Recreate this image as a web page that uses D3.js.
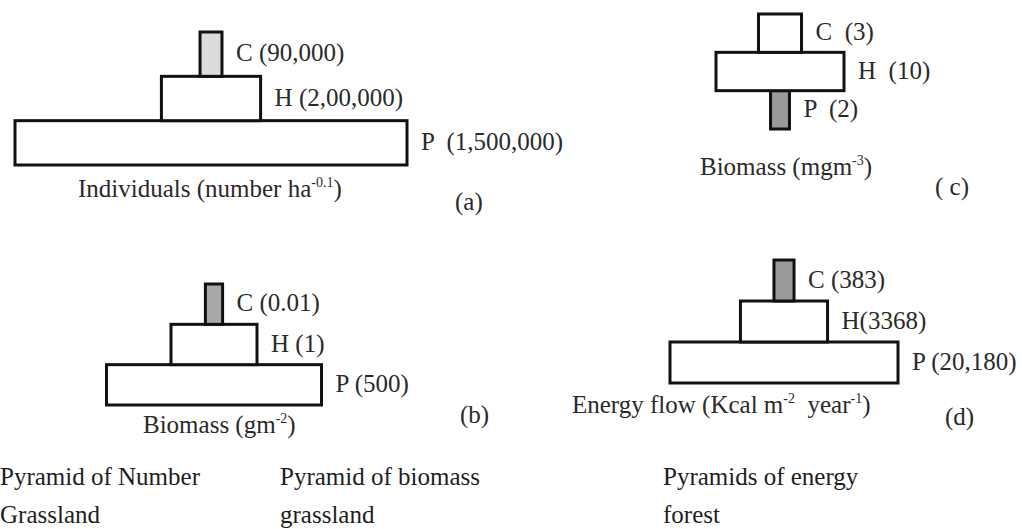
<!DOCTYPE html>
<html lang="en">
<head>
  <meta charset="UTF-8">
  <script src="https://cdnjs.cloudflare.com/ajax/libs/d3/7.8.5/d3.min.js"></script>
  <title>Ecological pyramids</title>
  <style>
    body { margin: 0; background: #fff; }
    text { font-family: "Liberation Serif", "Times New Roman", serif; }
  </style>
</head>
<body>
  <div id="chart"></div>
  <script>
  // trophic levels, bottom to top
  let levels = ["P", "H", "C"];

  // (a) pyramid of number, grassland
  let numberValues = [1500000, 200000, 90000];
  let numberLabels = ["P  (1,500,000)", "H (2,00,000)", "C (90,000)"];
  let numberWidths = [100, 25.3, 5.6];   // drawn width, % of widest tier

  // (b) pyramid of biomass, grassland
  let grassBiomassValues = [500, 1, 0.01];
  let grassBiomassLabels = ["P (500)", "H (1)", "C (0.01)"];
  let grassBiomassWidths = [100, 40, 8];

  // (c) biomass, inverted
  let waterBiomassValues = [2, 10, 3];
  let waterBiomassLabels = ["P  (2)", "H  (10)", "C  (3)"];
  let waterBiomassWidths = [14.8, 100, 33.6];

  // (d) pyramid of energy, forest
  let energyValues = [20180, 3368, 383];
  let energyLabels = ["P (20,180)", "H(3368)", "C (383)"];
  let energyWidths = [100, 38.2, 8.8];

  let width = 1031;
  let height = 529;

  let svg = d3.select("#chart")
    .append("svg")
    .attr("width", width)
    .attr("height", height);

  // layout of each little pyramid
  let panels = [
    { widths: numberWidths, labels: numberLabels, values: numberValues,
      cx: 211, span: 392, top: 32, bottom: 165, shade: 2, shadeColor: "#dcdcdc",
      tag: "(a)", tagX: 455, tagY: 210,
      unit: [["Individuals (number ha", 0], ["-0.1", 1], [")", 0]], unitX: 78, unitY: 197 },
    { widths: grassBiomassWidths, labels: grassBiomassLabels, values: grassBiomassValues,
      cx: 214, span: 215, top: 284, bottom: 405, shade: 2, shadeColor: "#a8a8a8",
      tag: "(b)", tagX: 460, tagY: 423,
      unit: [["Biomass (gm", 0], ["-2", 1], [")", 0]], unitX: 143, unitY: 433 },
    { widths: waterBiomassWidths, labels: waterBiomassLabels, values: waterBiomassValues,
      cx: 780, span: 128, top: 14, bottom: 129, shade: 0, shadeColor: "#9a9a9a",
      tag: "( c)", tagX: 935, tagY: 195,
      unit: [["Biomass (mgm", 0], ["-3", 1], [")", 0]], unitX: 700, unitY: 175 },
    { widths: energyWidths, labels: energyLabels, values: energyValues,
      cx: 784, span: 228, top: 260, bottom: 383, shade: 2, shadeColor: "#9a9a9a",
      tag: "(d)", tagX: 945, tagY: 425,
      unit: [["Energy flow (Kcal m", 0], ["-2", 1], ["  year", 0], ["-1", 1], [")", 0]], unitX: 572, unitY: 413 }
  ];

  panels.forEach(function(p) {
    let x = d3.scaleLinear().domain([0, 100]).range([0, p.span]);
    let y = d3.scaleBand().domain(levels.slice().reverse()).range([p.top, p.bottom]).paddingInner(0);

    let g = svg.append("g");

    let tiers = levels.map(function(lv, i) {
      return { level: lv, w: p.widths[i], label: p.labels[i], value: p.values[i], i: i };
    });

    g.selectAll("rect")
      .data(tiers)
      .enter()
      .append("rect")
      .attr("x", function(d) { return p.cx - x(d.w) / 2; })
      .attr("y", function(d) { return y(d.level); })
      .attr("width", function(d) { return x(d.w); })
      .attr("height", y.bandwidth())
      .attr("fill", function(d) { return d.i === p.shade ? p.shadeColor : "#fff"; })
      .attr("stroke", "#111")
      .attr("stroke-width", 3);

    g.selectAll("text.lab")
      .data(tiers)
      .enter()
      .append("text")
      .attr("class", "lab")
      .attr("x", function(d) { return p.cx + x(d.w) / 2 + 14; })
      .attr("y", function(d) { return y(d.level) + y.bandwidth() / 2 + 7; })
      .attr("font-size", "25px")
      .attr("fill", "#2a2a2a")
      .style("white-space", "pre")
      .text(function(d) { return d.label; });

    // unit caption with superscripts
    let u = g.append("text")
      .attr("x", p.unitX)
      .attr("y", p.unitY)
      .attr("font-size", "25px")
      .attr("fill", "#2a2a2a")
      .style("white-space", "pre");
    let raised = false;
    p.unit.forEach(function(part) {
      let dy = 0;
      if (part[1] && !raised) dy = -10;
      if (!part[1] && raised) dy = 10;
      raised = !!part[1];
      u.append("tspan")
        .attr("font-size", part[1] ? "14px" : "25px")
        .attr("dy", dy)
        .text(part[0]);
    });

    g.append("text")
      .attr("x", p.tagX)
      .attr("y", p.tagY)
      .attr("font-size", "25px")
      .attr("fill", "#2a2a2a")
      .style("white-space", "pre")
      .text(p.tag);
  });

  // titles under the figure
  let titles = [
    ["Pyramid of Number", "Grassland"],
    ["Pyramid of biomass", "grassland"],
    ["Pyramids of energy", "forest"]
  ];
  let titleX = [0, 280, 663];

  titles.forEach(function(t, i) {
    t.forEach(function(line, j) {
      svg.append("text")
        .attr("x", titleX[i])
        .attr("y", 485 + j * 38)
        .attr("font-size", "25px")
        .attr("fill", "#1e1e1e")
        .text(line);
    });
  });
  </script>
</body>
</html>
